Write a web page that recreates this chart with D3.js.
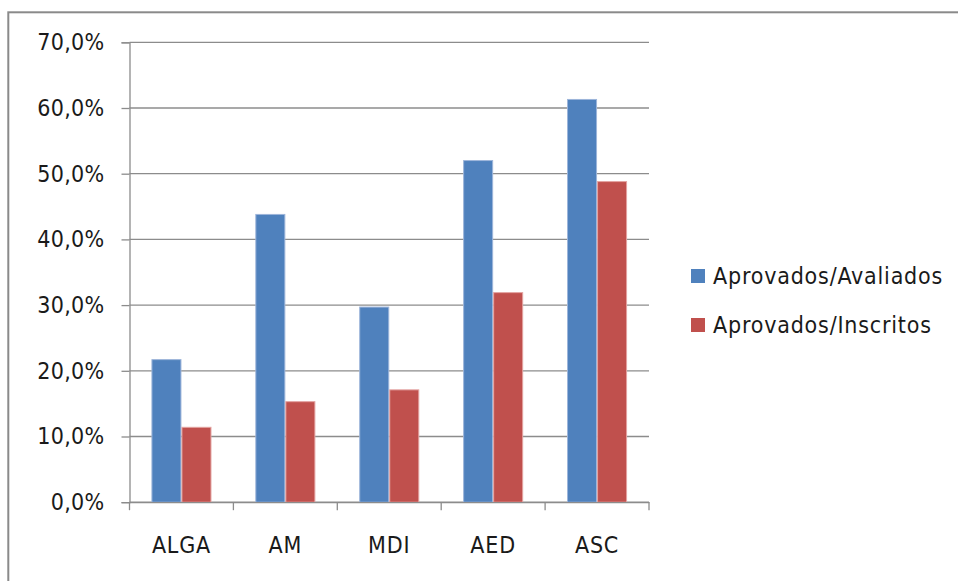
<!DOCTYPE html>
<html>
<head>
<meta charset="utf-8">
<script src="https://cdn.jsdelivr.net/npm/d3@7"></script>
<style>
  html, body { margin: 0; padding: 0; background: #fff; }
  svg { display: block; }
  text { font-family: "DejaVu Sans", sans-serif; font-stretch: condensed; fill: #1a1a1a; }
</style>
</head>
<body>
<svg id="chart" width="958" height="581"></svg>
<script>
// Pass rates per course unit
const categories = ["ALGA", "AM", "MDI", "AED", "ASC"];
const seriesNames = ["Aprovados/Avaliados", "Aprovados/Inscritos"];
const aprovadosAvaliados = [21.7, 43.8, 29.7, 52.0, 61.3];
const aprovadosInscritos = [11.4, 15.3, 17.1, 31.9, 48.8];
const yTicks = [0, 10, 20, 30, 40, 50, 60, 70];
const colors = ["#4F81BD", "#C0504D"];
const edgeColors = ["#9DB5DA", "#E3A3A1"];

const series = [aprovadosAvaliados, aprovadosInscritos];

const svg = d3.select("#chart");
const W = 958, H = 581;

// Outer chart frame
svg.append("rect")
  .attr("x", 8.3).attr("y", 12.3)
  .attr("width", W + 10).attr("height", H + 10)
  .attr("fill", "none").attr("stroke", "#8a8a8a").attr("stroke-width", 2);

const plot = { left: 129.5, right: 649, top: 42.3, bottom: 502.2 };

const x = d3.scaleBand().domain(categories).range([plot.left, plot.right]).paddingInner(0).paddingOuter(0);
const y = d3.scaleLinear().domain([0, 70]).range([plot.bottom, plot.top]);
const groupFrac = 0.578;
const x1 = d3.scaleBand().domain(d3.range(series.length))
  .range([0, x.bandwidth() * groupFrac]);
const groupOffset = (x.bandwidth() * (1 - groupFrac)) / 2;

const fmt = v => d3.format(".1f")(v).replace(".", ",") + "%";

// Horizontal gridlines
svg.append("g").selectAll("line").data(yTicks).join("line")
  .attr("x1", plot.left).attr("x2", plot.right)
  .attr("y1", d => y(d)).attr("y2", d => y(d))
  .attr("stroke", "#8c8c8c").attr("stroke-width", 1.3);

// Y axis
const yAxis = d3.axisLeft(y).tickValues(yTicks).tickFormat(fmt).tickSize(8).tickPadding(17);
const gy = svg.append("g").attr("transform", `translate(${plot.left},0)`).call(yAxis);
gy.select(".domain").attr("stroke", "#8c8c8c").attr("stroke-width", 1.3);
gy.selectAll(".tick line").attr("stroke", "#8c8c8c").attr("stroke-width", 1.3);
gy.selectAll(".tick text").attr("font-size", 23).attr("fill", "#1a1a1a")
  .attr("font-family", "DejaVu Sans").style("font-stretch", "condensed")
  .attr("letter-spacing", 0.3);

// Bars
const groups = svg.append("g").selectAll("g").data(categories).join("g")
  .attr("transform", c => `translate(${x(c) + groupOffset},0)`);
groups.selectAll("rect")
  .data((c, i) => series.map((s, k) => ({ k, v: s[i] })))
  .join("rect")
  .attr("x", d => x1(d.k) + 0.5)
  .attr("width", x1.bandwidth() - 1)
  .attr("y", d => y(d.v))
  .attr("height", d => y(0) - y(d.v))
  .attr("fill", d => colors[d.k])
  .attr("stroke", d => edgeColors[d.k])
  .attr("stroke-width", 1);

// X axis
const xAxis = d3.axisBottom(x).tickSize(0).tickPadding(0).tickFormat(() => "");
const gx = svg.append("g").attr("transform", `translate(0,${plot.bottom})`).call(xAxis);
gx.select(".domain").attr("stroke", "#8c8c8c").attr("stroke-width", 1.3);
// boundary tick marks between categories
const bounds = categories.map(c => x(c)).concat([plot.right]);
gx.append("g").selectAll("line").data(bounds).join("line")
  .attr("x1", d => d).attr("x2", d => d).attr("y1", 0).attr("y2", 8)
  .attr("stroke", "#8c8c8c").attr("stroke-width", 1.3);
// category labels
svg.append("g").selectAll("text").data(categories).join("text")
  .attr("x", c => x(c) + x.bandwidth() / 2)
  .attr("y", 553)
  .attr("text-anchor", "middle")
  .attr("font-size", 23)
  .attr("letter-spacing", 0.8)
  .text(c => c);

// Legend
const legend = svg.append("g");
const legendRows = seriesNames.map((n, k) => ({ n, k }));
legend.selectAll("rect").data(legendRows).join("rect")
  .attr("x", 691).attr("y", d => 269 + d.k * 49)
  .attr("width", 14).attr("height", 14)
  .attr("fill", d => colors[d.k]);
legend.selectAll("text").data(legendRows).join("text")
  .attr("x", 713).attr("y", d => 276 + d.k * 49)
  .attr("dy", "0.36em")
  .attr("font-size", 23)
  .attr("letter-spacing", 0.8)
  .text(d => d.n);
</script>
</body>
</html>
